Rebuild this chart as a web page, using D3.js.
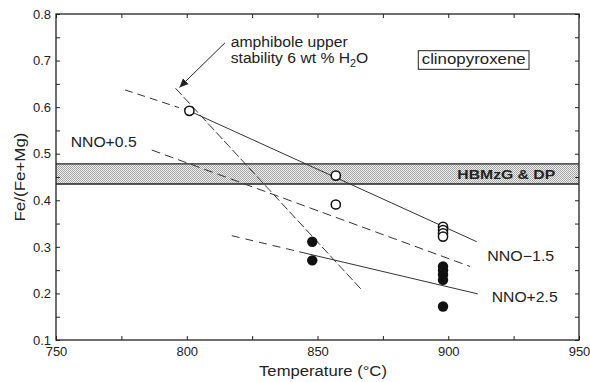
<!DOCTYPE html>
<html><head><meta charset="utf-8">
<script src="https://cdn.jsdelivr.net/npm/d3@7"></script>
<style>
html,body{margin:0;padding:0;background:#fff;}
svg{display:block;font-family:"Liberation Sans",Arial,Helvetica,sans-serif;}
</style></head>
<body>
<script>
// ---- data ----
const tempTicks = [750, 800, 850, 900, 950];
const tempMinor = [775, 825, 875, 925];
const ratioTicks = [0.1, 0.2, 0.3, 0.4, 0.5, 0.6, 0.7, 0.8];
const ratioMinor = [0.15, 0.25, 0.35, 0.45, 0.55, 0.65, 0.75];

const openT = [801, 857, 857, 898, 898, 898, 898];
const openV = [0.592, 0.453, 0.391, 0.343, 0.336, 0.329, 0.322];
const filledT = [848, 848, 898, 898, 898, 898, 898];
const filledV = [0.311, 0.271, 0.258, 0.250, 0.240, 0.229, 0.172];

const bandRange = [0.435, 0.478];

// NNO-1.5 trend (dashed extrapolation + solid)
const nnoM15DashT = [776.4, 797];
const nnoM15DashV = [0.637, 0.599];
const nnoM15SolidT = [799, 910.9];
const nnoM15SolidV = [0.597, 0.311];
// NNO+0.5 trend (dashed)
const nnoP05T = [786.6, 908.3];
const nnoP05V = [0.508, 0.258];
// NNO+2.5 trend (dashed + solid)
const nnoP25DashT = [817.2, 843];
const nnoP25DashV = [0.324, 0.2895];
const nnoP25SolidT = [843, 911.3];
const nnoP25SolidV = [0.2895, 0.199];
// amphibole upper stability
const amphT = [795.7, 866.9];
const amphV = [0.6405, 0.2077];
// arrow
const arrowT = [814.6, 797.2];
const arrowV = [0.738, 0.6423];

// ---- layout ----
const W = 590, H = 382;
const m = {left: 56, right: 11, top: 14, bottom: 42};
const svg = d3.select("body").append("svg").attr("width", W).attr("height", H);
const x = d3.scaleLinear().domain([750, 950]).range([m.left, W - m.right]);
const y = d3.scaleLinear().domain([0.1, 0.8]).range([H - m.bottom, m.top]);
const ink = "#222";

// band pattern
const defs = svg.append("defs");
const pat = defs.append("pattern").attr("id", "stip").attr("width", 2).attr("height", 2)
  .attr("patternUnits", "userSpaceOnUse");
pat.append("rect").attr("width", 2).attr("height", 2).attr("fill", "#efefef");
pat.append("rect").attr("x", 0).attr("y", 0).attr("width", 1).attr("height", 1).attr("fill", "#a2a2a2");
pat.append("rect").attr("x", 1).attr("y", 1).attr("width", 1).attr("height", 1).attr("fill", "#a8a8a8");
defs.append("marker").attr("id", "arr").attr("viewBox", "0 0 10 10").attr("refX", 10).attr("refY", 5)
  .attr("markerWidth", 9).attr("markerHeight", 9).attr("markerUnits", "userSpaceOnUse").attr("orient", "auto")
  .append("path").attr("d", "M0,0.5 L10,5 L0,9.5 Z").attr("fill", ink);

// band
svg.append("rect").attr("x", x(750)).attr("width", x(950) - x(750))
  .attr("y", y(bandRange[1])).attr("height", y(bandRange[0]) - y(bandRange[1]))
  .attr("fill", "url(#stip)");
bandRange.forEach(v => svg.append("line").attr("x1", x(750)).attr("x2", x(950))
  .attr("y1", y(v)).attr("y2", y(v)).attr("stroke", ink).attr("stroke-width", 1.3));

// lines
const line = d3.line().x(d => x(d[0])).y(d => y(d[1]));
function seg(T, V, dash) {
  svg.append("path").attr("d", line(T.map((t, i) => [t, V[i]])))
    .attr("fill", "none").attr("stroke", "#333").attr("stroke-width", 1)
    .attr("stroke-dasharray", dash || null);
}
seg(nnoM15DashT, nnoM15DashV, "8,5");
seg(nnoM15SolidT, nnoM15SolidV);
seg(nnoP05T, nnoP05V, "9,5");
seg(nnoP25DashT, nnoP25DashV, "8,6");
seg(nnoP25SolidT, nnoP25SolidV);
seg(amphT, amphV, "9,3");

// arrow
svg.append("line").attr("x1", x(arrowT[0])).attr("y1", y(arrowV[0]))
  .attr("x2", x(arrowT[1])).attr("y2", y(arrowV[1]))
  .attr("stroke", ink).attr("stroke-width", 1).attr("marker-end", "url(#arr)");

// points
svg.append("g").selectAll("circle").data(filledT.map((t, i) => [t, filledV[i]])).join("circle")
  .attr("cx", d => x(d[0])).attr("cy", d => y(d[1])).attr("r", 5.2).attr("fill", "#111");
svg.append("g").selectAll("circle").data(openT.map((t, i) => [t, openV[i]])).join("circle")
  .attr("cx", d => x(d[0])).attr("cy", d => y(d[1])).attr("r", 4.6)
  .attr("fill", "#fff").attr("stroke", "#111").attr("stroke-width", 1.5);

// axes
function styleAxis(g) {
  g.select(".domain").remove();
  g.selectAll(".tick line").attr("stroke", ink).attr("stroke-width", 1);
  g.selectAll("text").attr("font-size", 13).attr("fill", ink)
    .attr("font-family", "'Liberation Sans',Arial,sans-serif");
}
const allT = tempTicks.concat(tempMinor);
const allV = ratioTicks.concat(ratioMinor);
svg.append("g").attr("transform", `translate(0,${y(0.1)})`)
  .call(d3.axisBottom(x).tickValues(tempTicks).tickSize(0).tickPadding(7).tickFormat(d3.format("d"))).call(styleAxis);
svg.append("g").attr("transform", `translate(0,${y(0.1)})`)
  .call(d3.axisBottom(x).tickValues(allT).tickSize(-4).tickFormat("")).call(styleAxis);
svg.append("g").attr("transform", `translate(0,${y(0.8)})`)
  .call(d3.axisTop(x).tickValues(allT).tickSize(-4).tickFormat("")).call(styleAxis);
svg.append("g").attr("transform", `translate(${x(750)},0)`)
  .call(d3.axisLeft(y).tickValues(ratioTicks).tickSize(0).tickPadding(5).tickFormat(d3.format(".1f"))).call(styleAxis);
svg.append("g").attr("transform", `translate(${x(750)},0)`)
  .call(d3.axisLeft(y).tickValues(allV).tickSize(-4).tickFormat("")).call(styleAxis);
svg.append("g").attr("transform", `translate(${x(950)},0)`)
  .call(d3.axisRight(y).tickValues(allV).tickSize(-4).tickFormat("")).call(styleAxis);

// frame
svg.append("rect").attr("x", x(750)).attr("y", y(0.8)).attr("width", x(950) - x(750))
  .attr("height", y(0.1) - y(0.8)).attr("fill", "none").attr("stroke", ink).attr("stroke-width", 1.3);

// text helper: stretch to measured width
function label(str, px, py, width, opts = {}) {
  const t = svg.append("text").attr("font-size", opts.size || 14).attr("fill", ink)
    .attr("text-anchor", opts.anchor || "start").attr("font-weight", opts.bold ? "bold" : null);
  if (opts.parts) {
    opts.parts.forEach(p => {
      const s = t.append("tspan").text(p.t);
      if (p.size) s.attr("font-size", p.size);
      if (p.dy) s.attr("dy", p.dy);
    });
  } else t.text(str);
  const w = t.node().getComputedTextLength();
  const sx = width / w;
  t.attr("transform", `translate(${px},${py})${opts.rotate ? " rotate(" + opts.rotate + ")" : ""} scale(${sx},1)`);
  return t;
}

label("amphibole upper", 230.7, 47, 117, {size: 14.5});
label(null, 230.7, 63.3, 137.6, {size: 14.5, parts: [{t: "stability 6 wt % H"}, {t: "2", size: 10, dy: 4}, {t: "O", dy: -4}]});
label("NNO+0.5", 70.7, 147, 66, {size: 14.5});
label("NNO\u22121.5", 487.3, 260.7, 67, {size: 14.5});
label("NNO+2.5", 491.7, 302, 66, {size: 14.5});
label("HBMzG & DP", 457.3, 179.3, 98, {size: 13.5, bold: true});

// clinopyroxene box
svg.append("rect").attr("x", 418.3).attr("y", 50.7).attr("width", 110.7).attr("height", 18.6)
  .attr("fill", "#fff").attr("stroke", ink).attr("stroke-width", 1);
label("clinopyroxene", 421.7, 64, 104, {size: 14.5});

// axis titles
label("Temperature (\u00B0C)", 323, 376, 128, {anchor: "middle", size: 15});
label("Fe/(Fe+Mg)", 25, 177, 89, {anchor: "middle", size: 15, rotate: -90});
</script>
</body></html>
